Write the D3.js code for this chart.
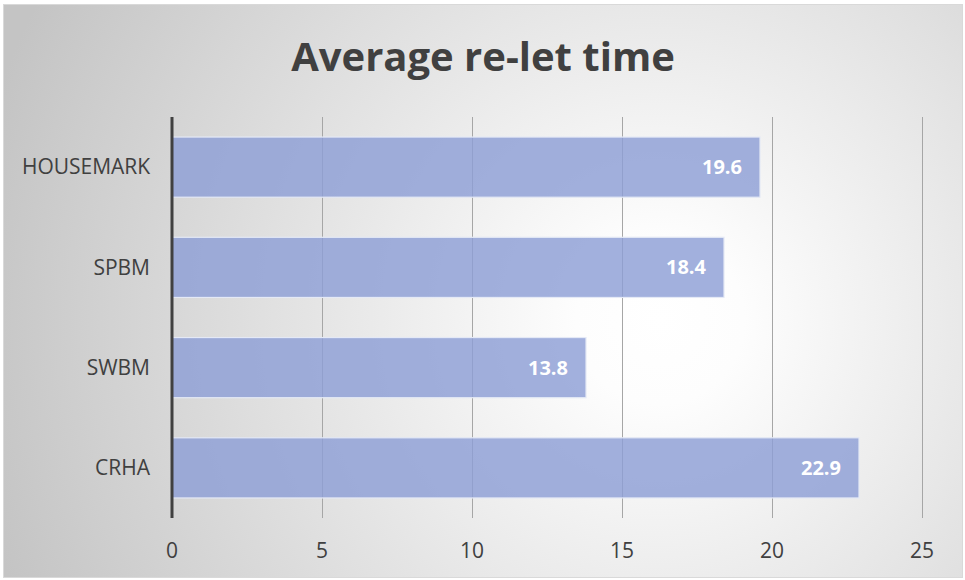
<!DOCTYPE html>
<html>
<head>
<meta charset="utf-8">
<script src="https://cdn.jsdelivr.net/npm/d3@7"></script>
<style>
  body { margin: 0; background: #fff; }
  text { font-family: "Open Sans", sans-serif; }
</style>
</head>
<body>
<div id="chart"></div>
<script>
// horizontal bar chart: average re-let time
var categories = ["HOUSEMARK", "SPBM", "SWBM", "CRHA"];
var values = [19.6, 18.4, 13.8, 22.9];
var tickValues = [0, 5, 10, 15, 20, 25];
var title = "Average re-let time";

(function() {
  var W = 965, H = 580;
  var margin = { top: 117, left: 172, right: 43, bottom: 62 };
  var width = W - margin.left - margin.right,
      height = H - margin.top - margin.bottom;

  var svg = d3.select("#chart").append("svg")
    .attr("width", W)
    .attr("height", H);

  var defs = svg.append("defs");
  var grad = defs.append("radialGradient")
    .attr("id", "bg")
    .attr("gradientUnits", "userSpaceOnUse")
    .attr("cx", 660).attr("cy", 320).attr("r", 700);
  grad.append("stop").attr("offset", "0%").attr("stop-color", "#ffffff");
  grad.append("stop").attr("offset", "12%").attr("stop-color", "#fdfdfd");
  grad.append("stop").attr("offset", "100%").attr("stop-color", "#c4c4c4");

  svg.append("rect")
    .attr("x", 3.5).attr("y", 4.5)
    .attr("width", 959).attr("height", 573)
    .attr("fill", "url(#bg)")
    .attr("stroke", "#d9d9d9");

  svg.append("text")
    .attr("x", 483)
    .attr("y", 71)
    .attr("text-anchor", "middle")
    .attr("font-size", 40)
    .attr("font-weight", "bold")
    .attr("fill", "#404040")
    .text(title);

  var g = svg.append("g")
    .attr("transform", "translate(" + margin.left + "," + margin.top + ")");

  var x = d3.scaleLinear().domain([0, 25]).range([0, width]);
  var y = d3.scaleBand().domain(categories).range([0, height]).paddingInner(0.4).paddingOuter(0.2);

  // gridlines
  g.selectAll(".grid")
    .data(tickValues.slice(1))
    .enter().append("line")
    .attr("x1", function(d) { return Math.round(x(d)) + 0.5; })
    .attr("x2", function(d) { return Math.round(x(d)) + 0.5; })
    .attr("y1", 0)
    .attr("y2", height)
    .attr("stroke", "#a6a6a6")
    .attr("stroke-width", 1);

  // bars
  g.selectAll(".bar")
    .data(values)
    .enter().append("rect")
    .attr("x", x(0))
    .attr("y", function(d, i) { return y(categories[i]); })
    .attr("width", function(d) { return x(d) - x(0); })
    .attr("height", y.bandwidth())
    .attr("fill", "#8d9fd6")
    .attr("fill-opacity", 0.82)
    .attr("stroke", "#e4e9f6")
    .attr("stroke-width", 1.2);

  // value labels
  g.selectAll(".val")
    .data(values)
    .enter().append("text")
    .attr("x", function(d) { return x(d) - 18; })
    .attr("y", function(d, i) { return y(categories[i]) + y.bandwidth() / 2; })
    .attr("dy", "0.35em")
    .attr("text-anchor", "end")
    .attr("font-size", 20)
    .attr("font-weight", "bold")
    .attr("fill", "#ffffff")
    .text(function(d) { return d.toFixed(1); });

  // axis line at zero
  g.append("line")
    .attr("x1", x(0)).attr("x2", x(0))
    .attr("y1", 0).attr("y2", height)
    .attr("stroke", "#404040")
    .attr("stroke-width", 3);

  // category labels
  g.selectAll(".cat")
    .data(categories)
    .enter().append("text")
    .attr("x", -22)
    .attr("y", function(d) { return y(d) + y.bandwidth() / 2; })
    .attr("dy", "0.35em")
    .attr("text-anchor", "end")
    .attr("font-size", 21)
    .attr("fill", "#404040")
    .attr("textLength", function(d) { return d === "HOUSEMARK" ? 128 : null; })
    .text(function(d) { return d; });

  // x tick labels
  g.selectAll(".tick")
    .data(tickValues)
    .enter().append("text")
    .attr("x", function(d) { return x(d); })
    .attr("y", height + 33)
    .attr("dy", "0.35em")
    .attr("text-anchor", "middle")
    .attr("font-size", 21)
    .attr("fill", "#404040")
    .text(function(d) { return d; });
})();
</script>
</body>
</html>
